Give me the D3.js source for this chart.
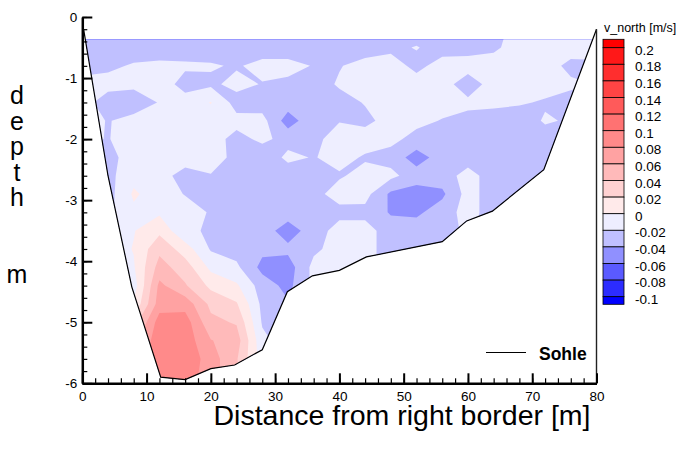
<!DOCTYPE html>
<html>
<head>
<meta charset="utf-8">
<script src="https://cdn.jsdelivr.net/npm/d3@7"></script>
<style>
  body { margin: 0; background: #fff; }
  text { font-family: Arial, "Liberation Sans", sans-serif; }
</style>
</head>
<body>
<svg id="chart" width="683" height="450"></svg>
<script>
// measurement grid: distance [m] and depth [m]
var gridX = [0, 4, 8, 12, 16, 20, 24, 28, 32, 36, 40, 44, 48, 52, 56, 60, 64, 68, 72, 76, 80];
var gridDepth = [-0.2, -0.5, -0.8, -1.1, -1.4, -1.7, -2.0, -2.3, -2.6, -2.9, -3.2, -3.5, -3.8, -4.1, -4.4, -4.7, -5.0, -5.3, -5.6, -5.9, -6.2];

// v_north [m/s], one row per depth
var vNorth = [
  [-0.03,-0.03,-0.03,-0.03,-0.03,-0.03,-0.03,-0.03,-0.03,-0.03,-0.03,-0.03,-0.03,-0.03,-0.03,-0.03,-0.03,-0.01,-0.01,-0.01,-0.01],
  [-0.03,-0.03,-0.03,-0.03,-0.03,-0.03,-0.03,-0.03,-0.03,-0.03,-0.03,-0.028,-0.024,-0.019,-0.027,-0.027,-0.024,-0.01,-0.01,-0.01,-0.01],
  [-0.026,-0.024,-0.018,-0.016,-0.017,-0.018,-0.022,-0.014,-0.014,-0.021,-0.021,-0.014,-0.012,-0.025,-0.013,-0.012,-0.01,-0.01,-0.01,-0.026,-0.025],
  [-0.015,-0.013,-0.016,-0.01,-0.027,-0.024,-0.014,-0.021,-0.024,-0.028,-0.018,-0.01,-0.01,-0.012,-0.012,-0.03,-0.012,-0.01,-0.013,-0.016,-0.021],
  [-0.012,-0.03,-0.03,-0.019,-0.012,0.001,-0.028,-0.03,-0.03,-0.03,-0.026,-0.019,-0.01,-0.01,-0.013,-0.016,-0.018,-0.018,-0.022,-0.028,-0.03],
  [-0.012,-0.021,-0.014,-0.01,-0.01,-0.01,-0.014,-0.013,-0.05,-0.026,-0.021,-0.024,-0.014,-0.015,-0.021,-0.025,-0.024,-0.03,-0.018,-0.022,-0.022],
  [-0.015,-0.021,-0.01,-0.01,-0.01,-0.012,-0.026,-0.016,-0.026,-0.026,-0.01,-0.012,-0.015,-0.026,-0.03,-0.03,-0.03,-0.03,-0.028,-0.03,-0.03],
  [-0.025,-0.027,-0.01,-0.01,-0.01,-0.012,-0.025,-0.032,-0.016,-0.021,-0.014,-0.022,-0.027,-0.05,-0.03,-0.03,-0.03,-0.03,-0.03,-0.03,-0.03],
  [-0.025,-0.026,-0.006,-0.012,-0.028,-0.021,-0.022,-0.03,-0.03,-0.027,-0.022,-0.014,-0.015,-0.03,-0.03,-0.012,-0.03,-0.03,-0.03,-0.03,-0.03],
  [-0.022,-0.028,0.003,-0.01,-0.021,-0.028,-0.03,-0.03,-0.03,-0.026,-0.012,-0.013,-0.044,-0.05,-0.044,-0.012,-0.03,-0.03,-0.03,-0.03,-0.03],
  [-0.015,-0.025,-0.004,-0.003,-0.01,-0.022,-0.03,-0.03,-0.03,-0.03,-0.026,-0.026,-0.042,-0.044,-0.03,-0.012,-0.03,-0.03,-0.03,-0.03,-0.03],
  [-0.01,-0.01,-0.001,0.015,-0.017,-0.022,-0.03,-0.03,-0.05,-0.03,-0.012,-0.012,-0.03,-0.03,-0.03,-0.015,-0.03,-0.03,-0.03,-0.03,-0.03],
  [-0.01,-0.01,0.001,0.035,0.01,-0.022,-0.028,-0.035,-0.035,-0.024,-0.012,-0.012,-0.03,-0.03,-0.03,-0.03,-0.03,-0.03,-0.03,-0.03,-0.03],
  [-0.01,-0.01,-0.002,0.048,0.03,-0.005,-0.016,-0.046,-0.05,-0.014,-0.012,-0.012,-0.03,-0.03,-0.03,-0.03,-0.03,-0.03,-0.03,-0.03,-0.03],
  [-0.01,-0.01,-0.01,0.065,0.042,0.015,0.003,-0.03,-0.046,-0.015,-0.015,-0.03,-0.03,-0.03,-0.03,-0.03,-0.03,-0.03,-0.03,-0.03,-0.03],
  [-0.01,-0.01,0.002,0.07,0.072,0.035,0.022,-0.025,-0.038,-0.03,-0.03,-0.03,-0.03,-0.03,-0.03,-0.03,-0.03,-0.03,-0.03,-0.03,-0.03],
  [0.01,0.025,0.03,0.09,0.09,0.045,0.038,-0.022,-0.03,-0.03,-0.03,-0.03,-0.03,-0.03,-0.03,-0.03,-0.03,-0.03,-0.03,-0.03,-0.03],
  [0.03,0.042,0.05,0.095,0.092,0.061,0.05,-0.015,-0.03,-0.03,-0.03,-0.03,-0.03,-0.03,-0.03,-0.03,-0.03,-0.03,-0.03,-0.03,-0.03],
  [0.042,0.05,0.061,0.095,0.095,0.07,0.042,-0.01,-0.03,-0.03,-0.03,-0.03,-0.03,-0.03,-0.03,-0.03,-0.03,-0.03,-0.03,-0.03,-0.03],
  [0.042,0.05,0.07,0.09,0.09,0.07,0.042,-0.01,-0.03,-0.03,-0.03,-0.03,-0.03,-0.03,-0.03,-0.03,-0.03,-0.03,-0.03,-0.03,-0.03],
  [0.042,0.05,0.07,0.09,0.09,0.07,0.042,-0.01,-0.03,-0.03,-0.03,-0.03,-0.03,-0.03,-0.03,-0.03,-0.03,-0.03,-0.03,-0.03,-0.03]
];

// contour levels and flood colours (lowest band first, one more colour than levels)
var levels = [-0.1, -0.08, -0.06, -0.04, -0.02, 0, 0.02, 0.04, 0.06, 0.08, 0.1, 0.12, 0.14, 0.16, 0.18, 0.2];
var levelColors = ["#0000ff", "#2c2cff", "#5a5aff", "#9090ff", "#c0c0ff", "#eeeeff",
                   "#ffeaea", "#ffd2d2", "#ffbaba", "#ffa2a2", "#ff8a8a", "#ff7272",
                   "#ff5a5a", "#ff4444", "#ff2e2e", "#ff1818", "#ff0000"];
var levelLabels = ["-0.1", "-0.08", "-0.06", "-0.04", "-0.02", "0", "0.02", "0.04", "0.06", "0.08", "0.1", "0.12", "0.14", "0.16", "0.18", "0.2"];

// river bed (Sohle)
var sohleX = [0.2, 4, 7.7, 12.2, 16, 20, 23.7, 28, 31.9, 35.8, 40, 44.2, 56, 59.8, 63.8, 71.8, 80];
var sohleDepth = [-0.2, -2.6, -4.42, -5.9, -5.94, -5.76, -5.7, -5.45, -4.5, -4.24, -4.15, -3.93, -3.68, -3.34, -3.18, -2.5, -0.2];
var waterLevel = -0.37;

var xTicks = [0, 10, 20, 30, 40, 50, 60, 70, 80];
var yTicks = [0, -1, -2, -3, -4, -5, -6];

var svg = d3.select("#chart");

var x = d3.scaleLinear().domain([0, 80]).range([82.3, 596.5]);
var y = d3.scaleLinear().domain([0, -6]).range([17, 383.3]);

// grid index -> data coords (d3.contours puts sample i at i+0.5)
var gx = d3.scaleLinear().domain([0.5, gridX.length - 0.5]).range([gridX[0], gridX[gridX.length - 1]]);
var gy = d3.scaleLinear().domain([0.5, gridDepth.length - 0.5]).range([gridDepth[0], gridDepth[gridDepth.length - 1]]);
var proj = d3.geoTransform({
  point: function(px, py) { this.stream.point(x(gx(px)), y(gy(py))); }
});
var path = d3.geoPath(proj);

var flat = [];
vNorth.forEach(function(row) { row.forEach(function(v) { flat.push(v); }); });

var thresholds = [-1].concat(levels);
var bands = d3.contours().size([gridX.length, gridDepth.length]).thresholds(thresholds)(flat);

// clip: below water surface and above the bed
var defs = svg.append("defs");
defs.append("clipPath").attr("id", "clipWater")
  .append("rect")
  .attr("x", 0).attr("y", y(waterLevel))
  .attr("width", 683).attr("height", 450);

var bedPts = sohleX.map(function(d, i) { return [x(d), y(sohleDepth[i])]; });
bedPts.push([x(80), y(0.5)], [x(0), y(0.5)]);
defs.append("clipPath").attr("id", "clipBed")
  .append("polygon")
  .attr("points", bedPts.map(function(p) { return p.join(","); }).join(" "));

var field = svg.append("g").attr("clip-path", "url(#clipWater)")
  .append("g").attr("clip-path", "url(#clipBed)");

field.selectAll("path")
  .data(bands)
  .enter().append("path")
  .attr("d", path)
  .attr("fill", function(d, i) { return levelColors[i]; })
  .attr("stroke", "none");

// bed line
var line = d3.line()
  .x(function(d) { return x(d[0]); })
  .y(function(d) { return y(d[1]); });
svg.append("path")
  .datum(sohleX.map(function(d, i) { return [d, sohleDepth[i]]; }))
  .attr("d", line)
  .attr("fill", "none")
  .attr("stroke", "#000")
  .attr("stroke-width", 1.2);

// right frame edge
svg.append("line")
  .attr("x1", x(80)).attr("x2", x(80))
  .attr("y1", y(-0.2)).attr("y2", y(-6))
  .attr("stroke", "#222").attr("stroke-width", 1.4);

// axes
var fmt = function(d) { return String(d); };

var yMinor = d3.range(0, -6.01, -0.2);
var xMinor = d3.range(0, 80.1, 2);

svg.append("g")
  .attr("transform", "translate(" + x(0) + ",0)")
  .call(d3.axisLeft(y).tickValues(yMinor).tickSize(-5).tickSizeOuter(0).tickFormat(""))
  .call(function(g) { g.select(".domain").remove(); g.selectAll("line").attr("stroke-width", 1.2); });

svg.append("g")
  .attr("transform", "translate(0," + y(-6) + ")")
  .call(d3.axisBottom(x).tickValues(xMinor).tickSize(-5).tickSizeOuter(0).tickFormat(""))
  .call(function(g) { g.select(".domain").remove(); g.selectAll("line").attr("stroke-width", 1.2); });

var yAxis = svg.append("g")
  .attr("transform", "translate(" + x(0) + ",0)")
  .call(d3.axisLeft(y).tickValues(yTicks).tickSize(-10).tickSizeOuter(0).tickPadding(5).tickFormat(fmt));

var xAxis = svg.append("g")
  .attr("transform", "translate(0," + y(-6) + ")")
  .call(d3.axisBottom(x).tickValues(xTicks).tickSize(-10).tickSizeOuter(0).tickPadding(8).tickFormat(fmt));

[yAxis, xAxis].forEach(function(g) {
  g.select(".domain").attr("stroke-width", 2.5).attr("stroke", "#000");
  g.selectAll(".tick line").attr("stroke-width", 2).attr("stroke", "#000");
  g.selectAll("text")
    .attr("fill", "#000")
    .style("font-family", "Arial, 'Liberation Sans', sans-serif")
    .style("font-size", "13.5px");
});

// axis titles
svg.append("text")
  .attr("x", 402).attr("y", 425)
  .attr("text-anchor", "middle")
  .style("font-size", "28.5px")
  .text("Distance from right border [m]");

var yTitle = ["d", "e", "p", "t", "h", "", "", "m"];
svg.append("g").selectAll("text")
  .data(yTitle)
  .enter().append("text")
  .attr("x", 17)
  .attr("y", function(d, i) { return 104 + i * 25.5; })
  .attr("text-anchor", "middle")
  .style("font-size", "25px")
  .text(function(d) { return d; });

// contour legend
var legX = 603, legW = 21;
var legY = d3.scaleLinear().domain([0.2, -0.1]).range([47.7, 296.7]);
var leg = svg.append("g");

leg.append("text")
  .attr("x", 604).attr("y", 32)
  .style("font-size", "12.5px")
  .text("v_north [m/s]");

var legBoxes = [];
legBoxes.push({ y0: legY(0.2) - 8.4, y1: legY(0.2), c: levelColors[16] });
for (var i = levels.length - 1; i > 0; i--) {
  legBoxes.push({ y0: legY(levels[i]), y1: legY(levels[i - 1]), c: levelColors[i] });
}
legBoxes.push({ y0: legY(-0.1), y1: legY(-0.1) + 7.6, c: levelColors[0] });

leg.selectAll("rect.box")
  .data(legBoxes)
  .enter().append("rect")
  .attr("class", "box")
  .attr("x", legX).attr("width", legW)
  .attr("y", function(d) { return d.y0; })
  .attr("height", function(d) { return d.y1 - d.y0; })
  .attr("fill", function(d) { return d.c; })
  .attr("stroke", "#000")
  .attr("stroke-width", 0.8);

leg.selectAll("text.lab")
  .data(levels)
  .enter().append("text")
  .attr("class", "lab")
  .attr("x", 635)
  .attr("y", function(d) { return legY(d) + 7; })
  .style("font-size", "13.5px")
  .text(function(d, i) { return levelLabels[i]; });

// line legend
svg.append("line")
  .attr("x1", 486).attr("x2", 526)
  .attr("y1", 352.5).attr("y2", 352.5)
  .attr("stroke", "#000").attr("stroke-width", 1.2);
svg.append("text")
  .attr("x", 539).attr("y", 360)
  .style("font-size", "17.5px")
  .style("font-weight", "bold")
  .text("Sohle");
</script>
</body>
</html>
